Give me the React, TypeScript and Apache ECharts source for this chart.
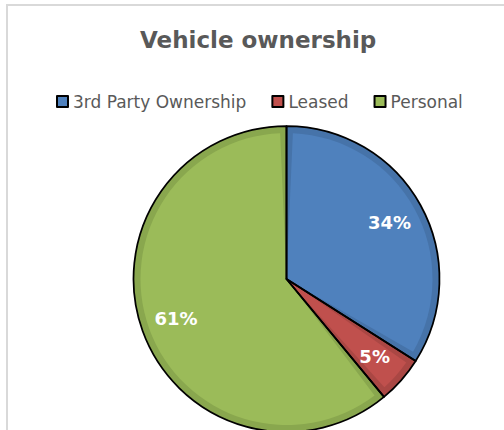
import React, { useEffect, useRef } from "react";
import * as echarts from "echarts";

const categories = ["3rd Party Ownership", "Leased", "Personal"];
const shares = [34, 5, 61];
const titleText = "Vehicle ownership";

const faceColors = ["#4f81bd", "#c0504d", "#9bbb59"];
const bandColors = ["#4673a9", "#aa4744", "#89a74e"];

const CENTER: [number, number] = [286.5, 279];
const R = 153;
const BAND = 7;
const PAD_DEG = 5;

export default function App() {
  const ref = useRef<HTMLDivElement>(null);
  useEffect(() => {
    if (!ref.current) return;
    const chart = echarts.init(ref.current, null, { renderer: "svg" });
    const total = shares.reduce((a, b) => a + b, 0);
    const mk = (colors: string[] | null) =>
      categories.map((name, i) => ({
        name,
        value: shares[i],
        itemStyle: colors ? { color: colors[i] } : undefined,
      }));

    // light "face" of each slice, inset from its neighbours so the darker band shows
    const padValue = (PAD_DEG / 360) * total;
    const clear = { color: "rgba(0,0,0,0)" };
    let cum = 0;
    const faceSeries = shares.map((v, i) => {
      const start = cum;
      cum += v;
      return {
        name: "face" + i,
        type: "pie",
        center: CENTER,
        radius: [0, R - BAND],
        startAngle: 90,
        clockwise: true,
        silent: true,
        z: 2,
        label: { show: false },
        labelLine: { show: false },
        data: [
          { name: "lead", value: start + padValue / 2, itemStyle: clear },
          { name: categories[i], value: v - padValue, itemStyle: { color: faceColors[i] } },
          { name: "rest", value: total - start - v + padValue / 2, itemStyle: clear },
        ],
      };
    });

    chart.setOption({
      animation: false,
      backgroundColor: "#ffffff",
      title: {
        text: titleText,
        left: 140,
        top: 28,
        padding: 0,
        textStyle: {
          fontFamily: "DejaVu Sans",
          fontWeight: "bold",
          fontSize: 23,
          color: "#595959",
        },
      },
      legend: {
        left: 56,
        top: 93,
        padding: 0,
        itemWidth: 11,
        itemHeight: 11,
        itemGap: 25,
        icon: "rect",
        selectedMode: false,
        data: categories.map((name, i) => ({
          name,
          itemStyle: { color: faceColors[i], borderColor: "#000", borderWidth: 2 },
        })),
        textStyle: { fontFamily: "DejaVu Sans", fontSize: 17, color: "#595959" },
      },
      graphic: [
        {
          type: "rect",
          shape: { x: 7, y: 5, width: 700, height: 700 },
          style: { fill: "none", stroke: "#d9d9d9", lineWidth: 2 },
          silent: true,
        },
      ],
      series: [
        {
          name: "base",
          type: "pie",
          center: CENTER,
          radius: [0, R],
          startAngle: 90,
          silent: true,
          z: 1,
          label: { show: false },
          labelLine: { show: false },
          data: mk(bandColors),
        },
        ...faceSeries,
        {
          name: "outline",
          type: "pie",
          center: CENTER,
          radius: [0, R],
          startAngle: 90,
          silent: true,
          z: 3,
          itemStyle: { color: "rgba(0,0,0,0)", borderColor: "#000", borderWidth: 1.75 },
          label: { show: false },
          labelLine: { show: false },
          data: mk(null),
        },
        {
          name: "labels",
          type: "pie",
          center: CENTER,
          radius: [76, R],
          startAngle: 90,
          silent: true,
          z: 4,
          itemStyle: { color: "rgba(0,0,0,0)", borderWidth: 0 },
          label: {
            show: true,
            position: "inside",
            formatter: "{d}%",
            color: "#ffffff",
            fontFamily: "DejaVu Sans",
            fontWeight: "bold",
            fontSize: 18,
          },
          labelLine: { show: false },
          data: mk(null),
        },
      ],
    });
    return () => chart.dispose();
  }, []);
  return (
    <div
      ref={ref}
      style={{ position: "fixed", left: 0, top: 0, width: 504, height: 430, background: "#fff" }}
    />
  );
}
